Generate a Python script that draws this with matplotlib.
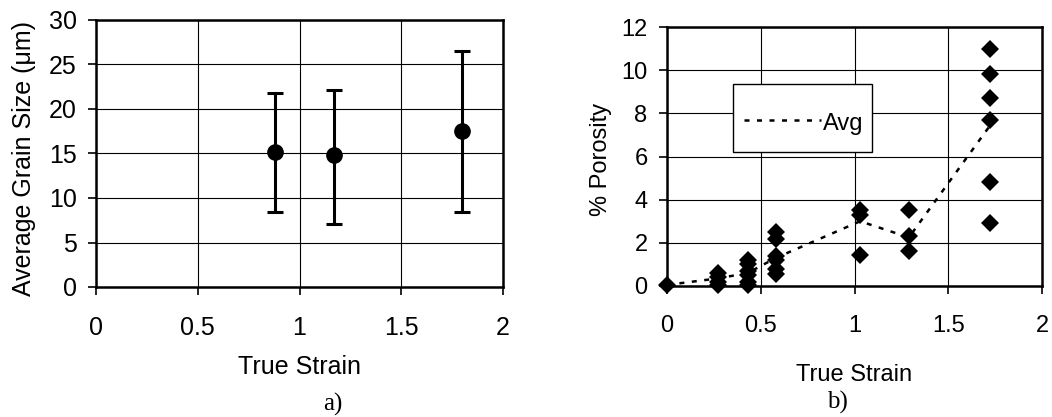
import matplotlib
matplotlib.use("Agg")
import matplotlib.pyplot as plt
from matplotlib.patches import Rectangle
from matplotlib.lines import Line2D

# panel a) grain size vs strain
strain_a = [0.88, 1.17, 1.80]
grain_size = [15.2, 14.8, 17.5]
grain_low = [8.4, 7.1, 8.4]
grain_high = [21.8, 22.1, 26.5]

# panel b) porosity vs strain (one list per strain level)
strain_levels = [0.0, 0.27, 0.43, 0.58, 1.03, 1.29, 1.72]
porosity_groups = [
    [0.05],
    [0.6, 0.4, 0.2, 0.05],
    [1.2, 1.0, 0.7, 0.5, 0.2, 0.05],
    [2.5, 2.2, 1.4, 1.2, 0.8, 0.55],
    [3.5, 3.3, 1.45],
    [3.5, 2.3, 1.6],
    [11.0, 9.8, 8.7, 7.7, 4.8, 2.9],
]
avg_porosity = [0.05, 0.35, 0.6, 1.3, 3.0, 2.25, 7.4]

plt.rcParams['font.family'] = ['Liberation Sans', 'DejaVu Sans']
FS_A = 18
FS_B = 17

fig = plt.figure(figsize=(10.52, 4.17), dpi=100)
ax_a = fig.add_axes([96 / 1052, 130 / 417, 407 / 1052, 267 / 417])
ax_b = fig.add_axes([667 / 1052, 131 / 417, 375 / 1052, 259 / 417])


def style_axes(ax, fs):
    for sp in ax.spines.values():
        sp.set_linewidth(1.8)
        sp.set_color("black")
    ax.grid(True, color="black", linewidth=0.8)
    ax.set_axisbelow(True)
    ax.tick_params(axis="both", direction="out", length=6, width=1.2,
                   labelsize=fs, colors="black")
    ax.tick_params(axis="x", pad=15)
    ax.tick_params(axis="y", pad=8)


# ---- a)
yerr = [[g - lo for g, lo in zip(grain_size, grain_low)],
        [hi - g for g, hi in zip(grain_size, grain_high)]]
ax_a.errorbar(strain_a, grain_size, yerr=yerr, fmt="o", color="black",
              markersize=11, elinewidth=2.2, capsize=5.5, capthick=2.2)
ax_a.set_xlim(0, 2)
ax_a.set_ylim(0, 30)
ax_a.set_xticks([0, 0.5, 1, 1.5, 2])
ax_a.set_xticklabels(["0", "0.5", "1", "1.5", "2"])
ax_a.set_yticks(range(0, 31, 5))
style_axes(ax_a, FS_A)
ax_a.set_xlabel("True Strain", fontsize=FS_A)
ax_a.set_ylabel("Average Grain Size (\u03bcm)", fontsize=FS_A)
ax_a.xaxis.set_label_coords(0.5, -0.255)
ax_a.yaxis.set_label_coords(-0.148, 0.48)

# ---- b)
for x, group in zip(strain_levels, porosity_groups):
    ax_b.plot([x] * len(group), group, linestyle="none", marker="D",
              markersize=9.5, color="black", markeredgewidth=0, clip_on=False,
              zorder=3)
ax_b.plot(strain_levels, avg_porosity, color="black", linewidth=1.8,
          dashes=(2, 3), zorder=4)
ax_b.set_xlim(0, 2)
ax_b.set_ylim(0, 12)
ax_b.set_xticks([0, 0.5, 1, 1.5, 2])
ax_b.set_xticklabels(["0", "0.5", "1", "1.5", "2"])
ax_b.set_yticks(range(0, 13, 2))
style_axes(ax_b, FS_B)
ax_b.set_xlabel("True Strain", fontsize=FS_B)
ax_b.set_ylabel("% Porosity", fontsize=FS_B)
ax_b.xaxis.set_label_coords(0.5, -0.30)
ax_b.yaxis.set_label_coords(-0.146, 0.49)

# legend box drawn by hand (wide, tall box as in the original)
ax_b.add_patch(Rectangle((0.176, 0.517), 0.37, 0.263, transform=ax_b.transAxes,
                         facecolor="white", edgecolor="black", linewidth=1.0,
                         zorder=5))
ax_b.add_line(Line2D([0.205, 0.41], [0.64, 0.64], transform=ax_b.transAxes,
                     color="black", linewidth=1.8, dashes=(2, 3), zorder=6))
ax_b.text(0.415, 0.625, "Avg", transform=ax_b.transAxes, fontsize=FS_B,
          va="center", ha="left", zorder=6)

# panel captions
fig.text(333 / 1052, 1 - 404 / 417, "a)", family=["Liberation Serif"],
         fontsize=FS_A, ha="center", va="center")
fig.text(837 / 1052, 1 - 402 / 417, "b)", family=["Liberation Serif"],
         fontsize=FS_A, ha="center", va="center")

fig.savefig("out.png", dpi=100, facecolor="white")
